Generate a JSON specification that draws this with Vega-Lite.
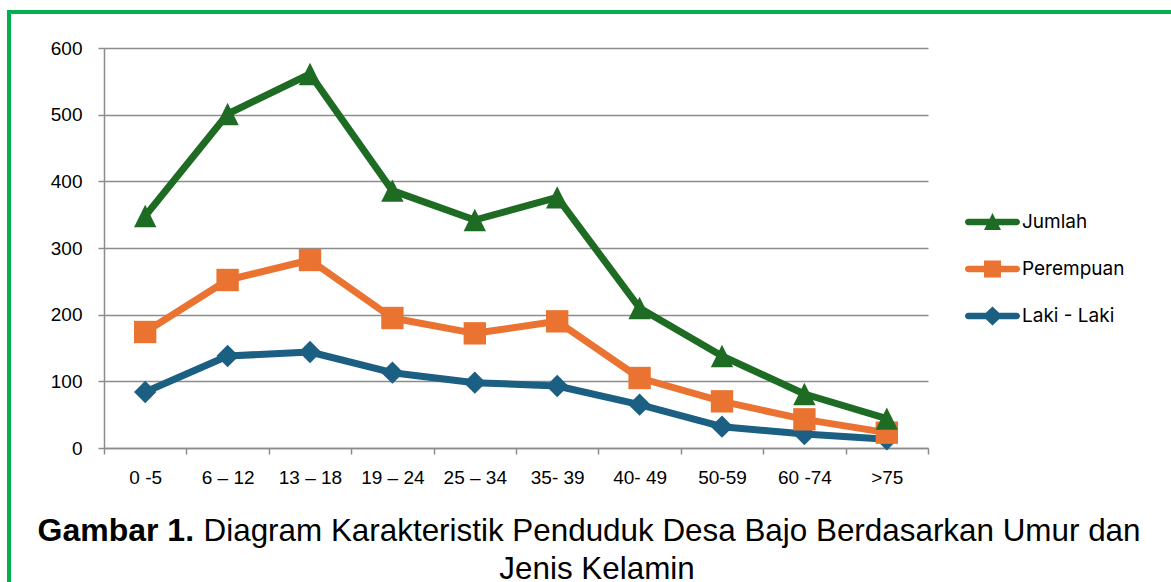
{
  "$schema": "https://vega.github.io/schema/vega-lite/v6.json",
  "width": 824,
  "height": 400,
  "autosize": {"type": "none"},
  "padding": {"left": 104, "top": 48, "right": 243, "bottom": 134},
  "background": "white",
  "config": {
    "view": {"stroke": null},
    "font": "Liberation Sans",
    "legend": {"strokeWidth": 4}
  },
  "title": {
    "text": "Jenis Kelamin",
    "orient": "top",
    "anchor": "middle",
    "frame": "group",
    "font": "Liberation Sans",
    "fontSize": 31.4,
    "fontWeight": "normal",
    "color": "black",
    "dx": 81,
    "dy": 604,
    "offset": 4,
    "baseline": "alphabetic"
  },
  "data": {
    "values": [
      {"age": "0 -5", "series": "Laki - Laki", "value": 84},
      {"age": "6 – 12", "series": "Laki - Laki", "value": 138},
      {"age": "13 – 18", "series": "Laki - Laki", "value": 144},
      {"age": "19 – 24", "series": "Laki - Laki", "value": 113},
      {"age": "25 – 34", "series": "Laki - Laki", "value": 98},
      {"age": "35- 39", "series": "Laki - Laki", "value": 93},
      {"age": "40- 49", "series": "Laki - Laki", "value": 65},
      {"age": "50-59", "series": "Laki - Laki", "value": 32},
      {"age": "60 -74", "series": "Laki - Laki", "value": 21},
      {"age": ">75", "series": "Laki - Laki", "value": 13},
      {"age": "0 -5", "series": "Perempuan", "value": 174},
      {"age": "6 – 12", "series": "Perempuan", "value": 252},
      {"age": "13 – 18", "series": "Perempuan", "value": 282},
      {"age": "19 – 24", "series": "Perempuan", "value": 195},
      {"age": "25 – 34", "series": "Perempuan", "value": 172},
      {"age": "35- 39", "series": "Perempuan", "value": 190},
      {"age": "40- 49", "series": "Perempuan", "value": 105},
      {"age": "50-59", "series": "Perempuan", "value": 70},
      {"age": "60 -74", "series": "Perempuan", "value": 43},
      {"age": ">75", "series": "Perempuan", "value": 23},
      {"age": "0 -5", "series": "Jumlah", "value": 348},
      {"age": "6 – 12", "series": "Jumlah", "value": 501},
      {"age": "13 – 18", "series": "Jumlah", "value": 561},
      {"age": "19 – 24", "series": "Jumlah", "value": 386},
      {"age": "25 – 34", "series": "Jumlah", "value": 342},
      {"age": "35- 39", "series": "Jumlah", "value": 376},
      {"age": "40- 49", "series": "Jumlah", "value": 210},
      {"age": "50-59", "series": "Jumlah", "value": 138},
      {"age": "60 -74", "series": "Jumlah", "value": 81},
      {"age": ">75", "series": "Jumlah", "value": 44}
    ]
  },
  "encoding": {
    "x": {
      "field": "age",
      "type": "nominal",
      "sort": ["0 -5", "6 – 12", "13 – 18", "19 – 24", "25 – 34", "35- 39", "40- 49", "50-59", "60 -74", ">75"],
      "scale": {"type": "band", "paddingInner": 0, "paddingOuter": 0},
      "axis": {
        "title": "Diagram Karakteristik Penduduk Desa Bajo Berdasarkan Umur dan",
        "titleX": 1036,
        "titleY": 92,
        "titleAlign": "right",
        "titleBaseline": "alphabetic",
        "titleFont": "Liberation Sans",
        "titleFontSize": 31.4,
        "titleFontWeight": "normal",
        "titleColor": "black",
        "labelAngle": 0,
        "labelFont": "Liberation Sans",
        "labelFontSize": 19,
        "labelColor": "black",
        "labelPadding": 14,
        "labelLimit": 0,
        "tickBand": "extent",
        "tickSize": 6,
        "tickColor": "#8c8c8c",
        "tickWidth": 1.5,
        "domainColor": "#8c8c8c",
        "domainWidth": 1.5,
        "grid": false
      }
    },
    "y": {
      "field": "value",
      "type": "quantitative",
      "scale": {"domain": [0, 600]},
      "axis": {
        "title": "Gambar 1.",
        "titleAngle": 0,
        "titleX": -67,
        "titleY": 492,
        "titleAlign": "left",
        "titleBaseline": "alphabetic",
        "titleFont": "Liberation Sans",
        "titleFontSize": 32,
        "titleFontWeight": "bold",
        "titleColor": "black",
        "values": [0, 100, 200, 300, 400, 500, 600],
        "labelFont": "Liberation Sans",
        "labelFontSize": 19,
        "labelColor": "black",
        "labelPadding": 16,
        "tickSize": 6,
        "tickColor": "#8c8c8c",
        "tickWidth": 1.5,
        "domainColor": "#8c8c8c",
        "domainWidth": 1.5,
        "grid": true,
        "gridColor": "#8c8c8c",
        "gridWidth": 1.5
      }
    },
    "color": {
      "field": "series",
      "type": "nominal",
      "scale": {"domain": ["Jumlah", "Perempuan", "Laki - Laki"], "range": ["#1e6b24", "#eb7332", "#1b5f82"]}
    }
  },
  "layer": [
    {
      "mark": {"type": "line", "strokeWidth": 7, "strokeJoin": "round", "strokeCap": "round"}
    },
    {
      "transform": [{"filter": "datum.series === 'Laki - Laki'"}],
      "mark": {"type": "point", "shape": "diamond", "filled": true, "opacity": 1, "size": 500, "strokeWidth": 0}
    },
    {
      "transform": [{"filter": "datum.series === 'Perempuan'"}],
      "mark": {"type": "point", "shape": "square", "filled": true, "opacity": 1, "size": 500, "strokeWidth": 0}
    },
    {
      "transform": [{"filter": "datum.series === 'Jumlah'"}],
      "mark": {"type": "point", "shape": "M0,-1L1,1L-1,1Z", "filled": true, "opacity": 1, "size": 500, "strokeWidth": 0}
    },
    {
      "mark": {"type": "point", "filled": true, "opacity": 0, "size": 10, "strokeWidth": 0},
      "encoding": {
        "shape": {
          "field": "series",
          "type": "nominal",
          "scale": {
            "domain": ["Jumlah", "Perempuan", "Laki - Laki"],
            "range": [
              "M-0.67,-0.33H4.17A0.33,0.33 0 0 1 4.17,0.33H-0.67A0.33,0.33 0 0 1 -0.67,-0.33Z M1.75,-0.9L2.6,0.8L0.9,0.8Z",
              "M-0.67,-0.33H4.17A0.33,0.33 0 0 1 4.17,0.33H-0.67A0.33,0.33 0 0 1 -0.67,-0.33Z M0.9,-0.85H2.6V0.85H0.9Z",
              "M-0.67,-0.33H4.17A0.33,0.33 0 0 1 4.17,0.33H-0.67A0.33,0.33 0 0 1 -0.67,-0.33Z M1.75,-0.95L2.75,0L1.75,0.95L0.75,0Z"
            ]
          }
        },
        "color": {
          "field": "series",
          "type": "nominal",
          "scale": {"domain": ["Jumlah", "Perempuan", "Laki - Laki"], "range": ["#1e6b24", "#eb7332", "#1b5f82"]},
          "legend": {
            "orient": "none",
            "legendX": -95,
            "legendY": -36,
            "title": " ",
            "titleOrient": "top",
            "titleFont": "Liberation Sans",
            "titleFontSize": 1,
            "titlePadding": -757,
            "padding": 956,
            "strokeColor": "#00b050",
            "symbolSize": 400,
            "symbolStrokeWidth": 0,
            "symbolOpacity": 1,
            "labelFont": "Inter",
            "labelFontSize": 19,
            "labelColor": "black",
            "labelOffset": 37,
            "rowPadding": 27
          }
        }
      }
    }
  ]
}
